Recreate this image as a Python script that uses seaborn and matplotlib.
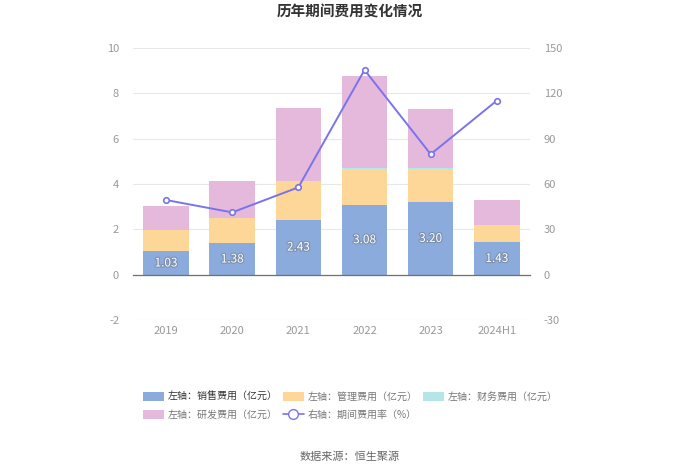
import numpy as np
import pandas as pd
import matplotlib.pyplot as plt
import seaborn as sns
import matplotlib.patheffects as pe
from matplotlib.patches import Patch
from matplotlib.lines import Line2D

years = ['2019', '2020', '2021', '2022', '2023', '2024H1']
sales = [1.03, 1.38, 2.43, 3.08, 3.20, 1.43]
admin = [0.92, 1.10, 1.70, 1.60, 1.45, 0.76]
finance = [0.01, -0.02, -0.02, 0.02, 0.06, 0.01]
rnd = [1.05, 1.65, 3.22, 4.06, 2.60, 1.08]
rate = [49.4, 41.2, 57.8, 135.5, 79.7, 115.2]

c_sales, c_admin, c_fin, c_rnd = '#8aabdb', '#fdd798', '#b5e5e6', '#e5b9dc'
c_line = '#7a73ee'

sns.set_style('white')
plt.rcParams['font.family'] = ['Noto Sans CJK SC', 'DejaVu Sans']
plt.rcParams['axes.unicode_minus'] = False

fig = plt.figure(figsize=(7, 4.73), dpi=100)
ax = fig.add_axes([0.19, 0.3235, 0.567, 0.575])

# stacking: positives upward, negatives downward
pos = np.zeros(len(years))
neg = np.zeros(len(years))
for vals, col in [(sales, c_sales), (admin, c_admin), (finance, c_fin), (rnd, c_rnd)]:
    v = np.array(vals)
    bottom = np.where(v >= 0, pos, neg)
    sns.barplot(x=years, y=v, bottom=bottom, color=col, saturation=1,
                width=0.69, errorbar=None, ax=ax, zorder=2,
                edgecolor='none', linewidth=0)
    pos = pos + np.where(v >= 0, v, 0)
    neg = neg + np.where(v < 0, v, 0)

for i, v in enumerate(sales):
    ax.text(i, v / 2, f'{v:.2f}', ha='center', va='center', fontsize=8.5,
            color='white', zorder=5,
            path_effects=[pe.withStroke(linewidth=1.6, foreground='#7d8fae')])

ax.set_ylim(-2, 10)
ax.set_yticks(range(-2, 11, 2))
ax.set_xlim(-0.5, len(years) - 0.5)
ax.grid(axis='y', color='#e8e8ec', linewidth=0.8, zorder=0)
ax.set_axisbelow(True)
for s in ['left', 'right', 'top']:
    ax.spines[s].set_visible(False)
ax.spines['bottom'].set_position(('data', 0))
ax.spines['bottom'].set_color('#6e7079')
ax.spines['bottom'].set_linewidth(0.9)
ax.tick_params(axis='x', length=4, color='#6e7079', pad=33, labelsize=8, labelcolor='#999999')
ax.tick_params(axis='y', length=0, pad=10, labelsize=8, labelcolor='#999999')
ax.set_xlabel('')
ax.set_ylabel('')

ax2 = ax.twinx()
sns.lineplot(x=list(range(len(years))), y=rate, ax=ax2, color=c_line, linewidth=1.4,
             marker='o', markersize=4, markerfacecolor='white',
             markeredgecolor=c_line, markeredgewidth=1.2, sort=False, zorder=6)
ax2.set_ylim(-30, 150)
ax2.set_yticks(range(-30, 151, 30))
ax2.tick_params(axis='y', length=0, pad=10, labelsize=8, labelcolor='#999999')
for s in ax2.spines.values():
    s.set_visible(False)
ax2.set_ylabel('')

fig.text(0.5, 0.975, '历年期间费用变化情况', ha='center', va='center',
         fontsize=10.5, fontweight='bold', color='#333333')
fig.text(0.5, 0.034, '数据来源：恒生聚源', ha='center', va='center',
         fontsize=8, color='#666666')

h_sales = Patch(facecolor=c_sales, edgecolor='none')
h_admin = Patch(facecolor=c_admin, edgecolor='none')
h_fin = Patch(facecolor=c_fin, edgecolor='none')
h_rnd = Patch(facecolor=c_rnd, edgecolor='none')
h_rate = Line2D([], [], color=c_line, linewidth=1.2, marker='o', markersize=7,
                markerfacecolor='white', markeredgecolor=c_line)
handles = [h_sales, h_rnd, h_admin, h_rate, h_fin]
labels = ['左轴：销售费用（亿元）', '左轴：研发费用（亿元）', '左轴：管理费用（亿元）',
          '右轴：期间费用率（%）', '左轴：财务费用（亿元）']
leg = fig.legend(handles, labels, ncol=3, loc='upper left', bbox_to_anchor=(0.191, 0.191),
                 frameon=False, fontsize=7.2, handlelength=2.1, handleheight=1.0,
                 columnspacing=0.5, labelspacing=0.85, handletextpad=0.4)
for t in leg.get_texts():
    t.set_color('#777777')
leg.get_texts()[0].set_color('#333333')

fig.savefig('out.png', dpi=100, facecolor='white')
